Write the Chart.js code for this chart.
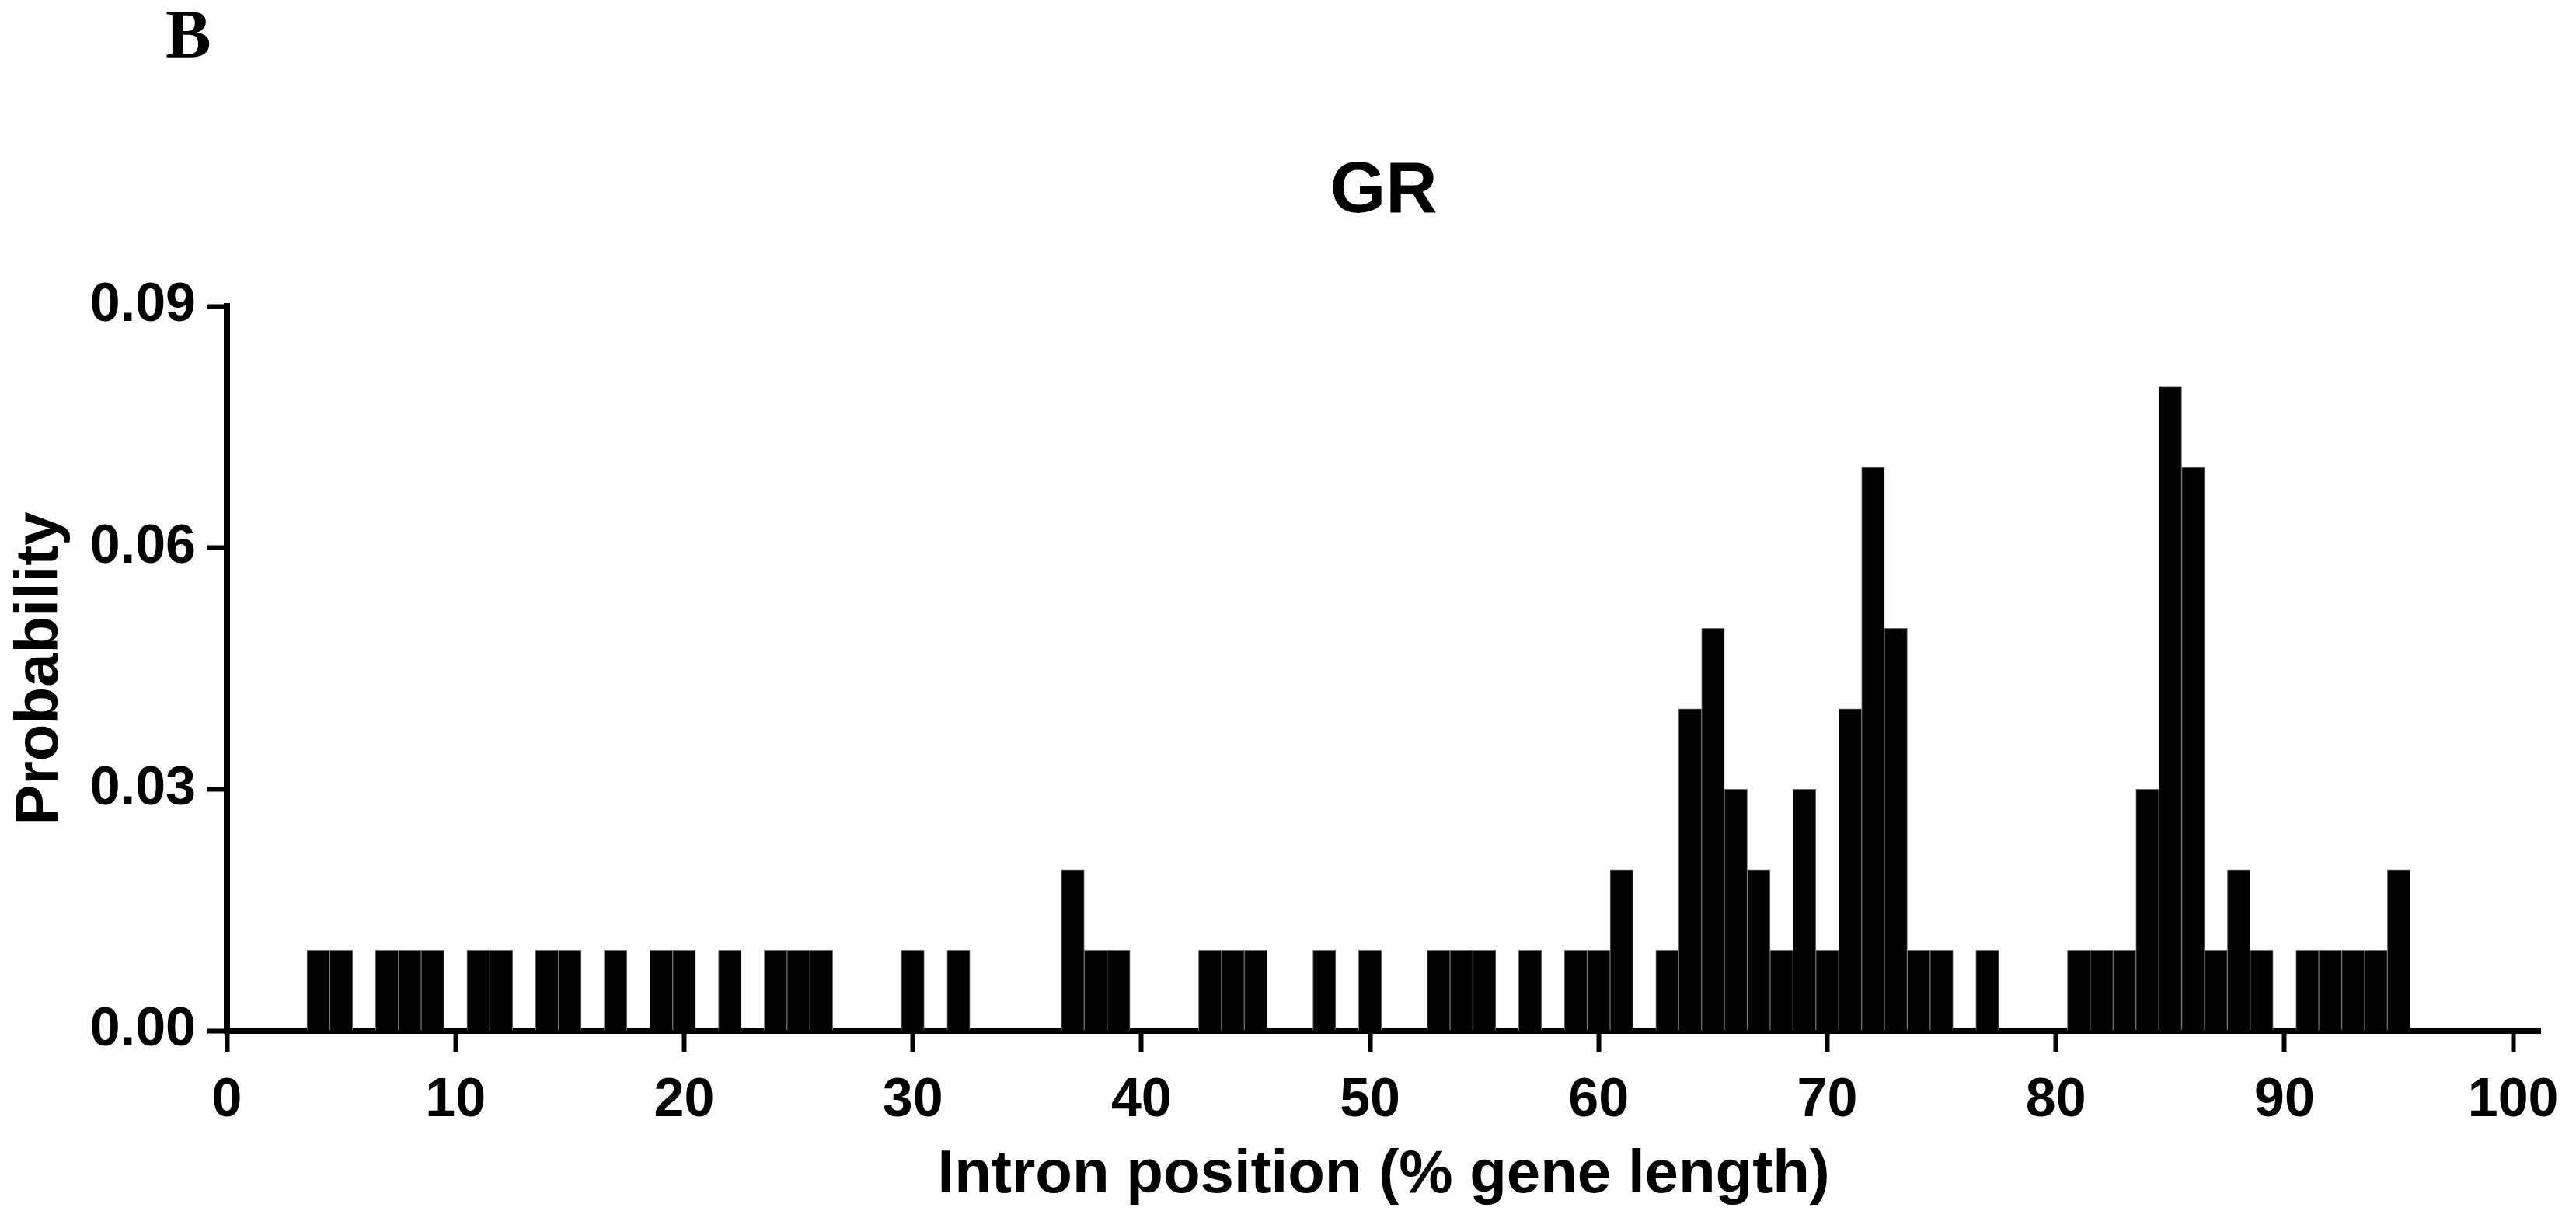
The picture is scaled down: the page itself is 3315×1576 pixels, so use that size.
<!DOCTYPE html>
<html>
<head>
<meta charset="utf-8">
<script src="https://cdn.jsdelivr.net/npm/chart.js@4/dist/chart.umd.min.js"></script>
<style>
  body { margin: 0; background: #fff; }
</style>
</head>
<body>
<canvas id="chart1" width="3315" height="1576"></canvas>
<script>
// Histogram data (intron position bins, % gene length)
const positions = [4, 5, 7, 8, 9, 11, 12, 14, 15, 17, 19, 20, 22, 24, 25, 26, 30, 32,
    37, 38, 39, 43, 44, 45, 48, 50, 53, 54, 55, 57, 59, 60, 61, 63, 64, 65, 66, 67, 68,
    69, 70, 71, 72, 73, 74, 75, 77, 81, 82, 83, 84, 85, 86, 87, 88, 89, 91, 92, 93, 94, 95];
const probabilities = [0.01, 0.01, 0.01, 0.01, 0.01, 0.01, 0.01, 0.01, 0.01, 0.01, 0.01, 0.01, 0.01, 0.01, 0.01, 0.01, 0.01, 0.01,
    0.02, 0.01, 0.01, 0.01, 0.01, 0.01, 0.01, 0.01, 0.01, 0.01, 0.01, 0.01, 0.01, 0.01, 0.02, 0.01, 0.04, 0.05, 0.03, 0.02, 0.01,
    0.03, 0.01, 0.04, 0.07, 0.05, 0.01, 0.01, 0.01, 0.01, 0.01, 0.01, 0.03, 0.08, 0.07, 0.01, 0.02, 0.01, 0.01, 0.01, 0.01, 0.01, 0.02];
const xTicks = [0, 10, 20, 30, 40, 50, 60, 70, 80, 90, 100];
const yTicks = [0, 0.03, 0.06, 0.09];

const panelLetter = 'B';
const chartTitle = 'GR';
const xTitle = 'Intron position (% gene length)';
const yTitle = 'Probability';

const sans = '"Liberation Sans", Arial, Helvetica, sans-serif';

var points = positions.map((p, i) => ({x: p, y: probabilities[i]}));

// letter + centred title, drawn on top
var headerPlugin = {
    id: 'header',
    afterDraw: function(chart) {
        var c = chart.ctx;
        var area = chart.chartArea;
        c.save();
        c.fillStyle = '#000';
        c.textBaseline = 'alphabetic';
        c.textAlign = 'left';
        c.font = 'bold 88px "Liberation Serif", "Times New Roman", serif';
        c.fillText(panelLetter, 213, 73);
        c.textAlign = 'center';
        c.font = 'bold 92px ' + sans;
        c.fillText(chartTitle, (area.left + area.right) / 2, 273);
        c.restore();
    }
};

const ctx1 = document.getElementById('chart1').getContext('2d');

var graphData = {
    type: 'bar',
    data: {
        datasets: [{
            label: 'Probability',
            data: points,
            backgroundColor: '#000',
            borderColor: '#6e6e6e',
            borderWidth: 1,
            borderSkipped: 'bottom',
            barPercentage: 1,
            categoryPercentage: 1
        }]
    },
    options: {
        responsive: false,
        animation: false,
        layout: {padding: {top: 394, right: 38, bottom: 0, left: 0}},
        plugins: {
            legend: {display: false},
            tooltip: {enabled: false}
        },
        scales: {
            x: {
                type: 'linear',
                offset: false,
                min: 0,
                max: 101.2,
                afterBuildTicks: function(scale) {
                    scale.ticks = xTicks.map(v => ({value: v}));
                },
                afterFit: function(scale) { scale.height = 250; },
                grid: {
                    offset: false,
                    drawOnChartArea: false,
                    drawTicks: true,
                    tickLength: 27,
                    tickWidth: 6,
                    tickColor: '#000'
                },
                border: {display: true, color: '#000', width: 8},
                ticks: {
                    color: '#000',
                    padding: 22,
                    maxRotation: 0,
                    autoSkip: false,
                    font: {family: sans, size: 70, weight: 'bold'}
                },
                title: {
                    display: true,
                    text: xTitle,
                    color: '#000',
                    padding: {top: 0, bottom: 17},
                    font: {family: sans, size: 78, weight: 'bold'}
                }
            },
            y: {
                min: 0,
                max: 0.09,
                afterBuildTicks: function(scale) {
                    scale.ticks = yTicks.map(v => ({value: v}));
                },
                afterFit: function(scale) { scale.width = 292; },
                grid: {
                    drawOnChartArea: false,
                    drawTicks: true,
                    tickLength: 25,
                    tickWidth: 6,
                    tickColor: '#000'
                },
                border: {display: true, color: '#000', width: 8},
                ticks: {
                    color: '#000',
                    padding: 15,
                    callback: function(v) { return Number(v).toFixed(2); },
                    font: {family: sans, size: 70, weight: 'bold'}
                },
                title: {
                    display: true,
                    text: yTitle,
                    color: '#000',
                    padding: {top: 6, bottom: 0},
                    font: {family: sans, size: 78, weight: 'bold'}
                }
            }
        }
    },
    plugins: [headerPlugin]
};

const chart1 = new Chart(ctx1, graphData);
</script>
</body>
</html>
